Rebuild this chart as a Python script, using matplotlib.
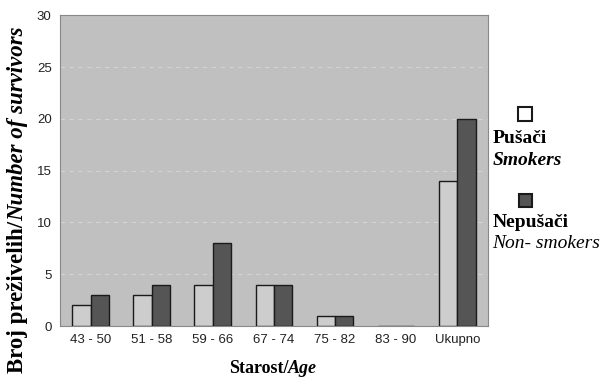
import matplotlib
matplotlib.use("Agg")
import matplotlib.pyplot as plt
import numpy as np
from matplotlib.patches import Rectangle

categories = ["43 - 50", "51 - 58", "59 - 66", "67 - 74", "75 - 82", "83 - 90", "Ukupno"]
smokers = [2, 3, 4, 4, 1, 0, 14]
non_smokers = [3, 4, 8, 4, 1, 0, 20]
yticks = [0, 5, 10, 15, 20, 25, 30]

fig = plt.figure(figsize=(6.12, 3.8), dpi=100)
fig.patch.set_facecolor("white")
ax = fig.add_axes([0.098, 0.142, 0.699, 0.818])
ax.set_facecolor("#c0c0c0")

x = np.arange(len(categories))
w = 0.3
ax.bar(x - w/2, smokers, w, color="#cdcdcd", edgecolor="#1a1a1a", linewidth=1.0, zorder=3)
ax.bar(x + w/2, non_smokers, w, color="#555555", edgecolor="#1a1a1a", linewidth=1.0, zorder=3)

ax.set_ylim(0, 30)
ax.set_xlim(-0.5, len(categories) - 0.5)
ax.set_yticks(yticks)
ax.set_xticks(x)
ax.set_xticklabels(categories)
for t in ax.get_xticklabels() + ax.get_yticklabels():
    t.set_fontfamily("Liberation Sans")
    t.set_fontsize(9.5)
    t.set_color("#222222")
ax.tick_params(axis="both", length=0, pad=6)
for yv in yticks[1:-1]:
    ax.axhline(yv, color="#d4d4d4", linestyle=(0, (4, 4)), linewidth=0.8, zorder=1)
for s in ax.spines.values():
    s.set_color("#888888")
    s.set_linewidth(0.8)

fig.canvas.draw()
r = fig.canvas.get_renderer()
serif = "Liberation Serif"

# y label
fs = 16.5
t1 = fig.text(18/612, 1 - 373/380, "Broj preživelih/", rotation=90, fontsize=fs,
              fontweight="bold", family=serif, ha="center", va="bottom")
bb = t1.get_window_extent(r)
t2 = fig.text(18/612, bb.y1/380, "Number of survivors", rotation=90, fontsize=fs,
              fontweight="bold", style="italic", family=serif, ha="center", va="bottom")

# x label
xs = fig.text(0, 1 - 373/380, "Starost/", fontsize=13, fontweight="bold", family=serif,
              ha="left", va="baseline")
xa = fig.text(0, 1 - 373/380, "Age", fontsize=13, fontweight="bold", style="italic",
              family=serif, ha="left", va="baseline")
b1 = xs.get_window_extent(r)
b2 = xa.get_window_extent(r)
total = b1.width + b2.width
x0 = 273 - total/2
xs.set_x(x0/612)
xa.set_x((x0 + b1.width)/612)

# legend
fig.add_artist(Rectangle((518/612, 1 - 121/380), 14/612, 14/380, transform=fig.transFigure,
                         facecolor="white", edgecolor="#1a1a1a", linewidth=1.5))
fig.text(493/612, 1 - 143/380, "Pušači", fontsize=14, fontweight="bold", family=serif, ha="left", va="baseline")
fig.text(493/612, 1 - 165/380, "Smokers", fontsize=14, fontweight="bold", style="italic", family=serif, ha="left", va="baseline")
fig.add_artist(Rectangle((519/612, 1 - 207/380), 13/612, 13/380, transform=fig.transFigure,
                         facecolor="#555555", edgecolor="#1a1a1a", linewidth=1.5))
fig.text(493/612, 1 - 227/380, "Nepušači", fontsize=14, fontweight="bold", family=serif, ha="left", va="baseline")
fig.text(492/612, 1 - 248/380, "Non- smokers", fontsize=14, style="italic", family=serif, ha="left", va="baseline")

fig.savefig("out.png", dpi=100)
